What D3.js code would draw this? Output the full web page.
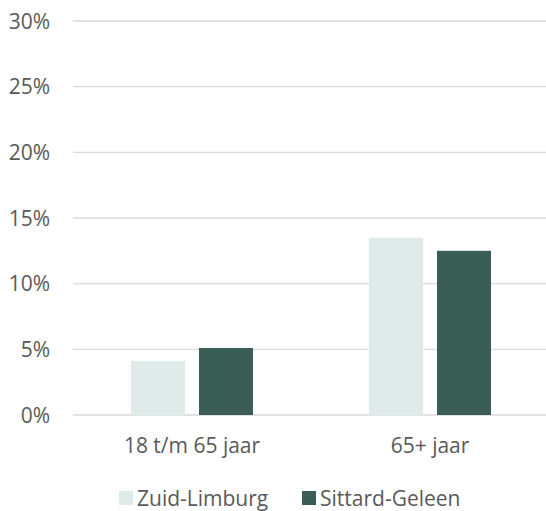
<!DOCTYPE html>
<html>
<head>
<meta charset="utf-8">
<script src="https://cdn.jsdelivr.net/npm/d3@7"></script>
<style>
  html, body { margin: 0; padding: 0; background: #fff; }
  svg { display: block; }
  text { font-family: "Open Sans", sans-serif; fill: #595959; }
</style>
</head>
<body>
<svg id="chart" width="546" height="511"></svg>
<script>
// Aandeel per leeftijdsgroep (in procenten)
const categories = ["18 t/m 65 jaar", "65+ jaar"];
const seriesNames = ["Zuid-Limburg", "Sittard-Geleen"];
const zuidLimburg = [4.1, 13.5];
const sittardGeleen = [5.1, 12.5];
const yTicks = [0, 5, 10, 15, 20, 25, 30];
const colors = ["#DEEBE8", "#3A5D56"];

const values = [zuidLimburg, sittardGeleen];
const rows = categories.map((c, i) => ({
  category: c,
  bars: seriesNames.map((s, j) => ({ series: s, value: values[j][i], color: colors[j] }))
}));

const svg = d3.select("#chart");
const plot = { left: 73, right: 549, top: 21, bottom: 415 };

const y = d3.scaleLinear().domain([0, 30]).range([plot.bottom, plot.top]);
const x0 = d3.scaleBand().domain(categories).range([plot.left, plot.right]).padding(0);
const groupWidth = 122;
const x1 = d3.scaleBand().domain(seriesNames).range([0, groupWidth]).paddingInner(0.206).paddingOuter(0);

// Horizontale rasterlijnen
svg.append("g")
  .selectAll("line")
  .data(yTicks)
  .join("line")
  .attr("x1", plot.left)
  .attr("x2", 546)
  .attr("y1", d => y(d))
  .attr("y2", d => y(d))
  .attr("stroke", "#D9D9D9")
  .attr("stroke-width", 1.3);

// Y-as labels
const yAxis = d3.axisLeft(y).tickValues(yTicks).tickFormat(d => d + "%").tickSize(0).tickPadding(0);
const yG = svg.append("g").attr("transform", `translate(50,0)`).call(yAxis);
yG.select(".domain").remove();
yG.selectAll("text")
  .attr("font-family", "Open Sans, sans-serif")
  .attr("font-size", 21)
  .attr("fill", "#595959")
  .attr("dy", "0.34em");

// Staven
const groups = svg.append("g")
  .selectAll("g")
  .data(rows)
  .join("g")
  .attr("transform", d => `translate(${x0(d.category) + (x0.bandwidth() - groupWidth) / 2},0)`);

groups.selectAll("rect")
  .data(d => d.bars)
  .join("rect")
  .attr("x", d => x1(d.series))
  .attr("width", x1.bandwidth())
  .attr("y", d => y(d.value))
  .attr("height", d => y(0) - y(d.value))
  .attr("fill", d => d.color);

// Categorie-labels
const xAxis = d3.axisBottom(x0).tickSize(0).tickPadding(0);
const xG = svg.append("g").attr("transform", `translate(0,${plot.bottom})`).call(xAxis);
xG.select(".domain").remove();
xG.selectAll("text")
  .attr("font-family", "Open Sans, sans-serif")
  .attr("font-size", 21)
  .attr("fill", "#595959")
  .attr("dy", null)
  .attr("y", 38);

// Legenda
const legendItems = [
  { name: seriesNames[0], color: colors[0], x: 119 },
  { name: seriesNames[1], color: colors[1], x: 302 }
];
const legend = svg.append("g");
const li = legend.selectAll("g").data(legendItems).join("g")
  .attr("transform", d => `translate(${d.x},491)`);
li.append("rect").attr("width", 14).attr("height", 14).attr("fill", d => d.color);
li.append("text")
  .attr("x", 18)
  .attr("y", 15)
  .attr("font-size", 21)
  .text(d => d.name);
</script>
</body>
</html>
